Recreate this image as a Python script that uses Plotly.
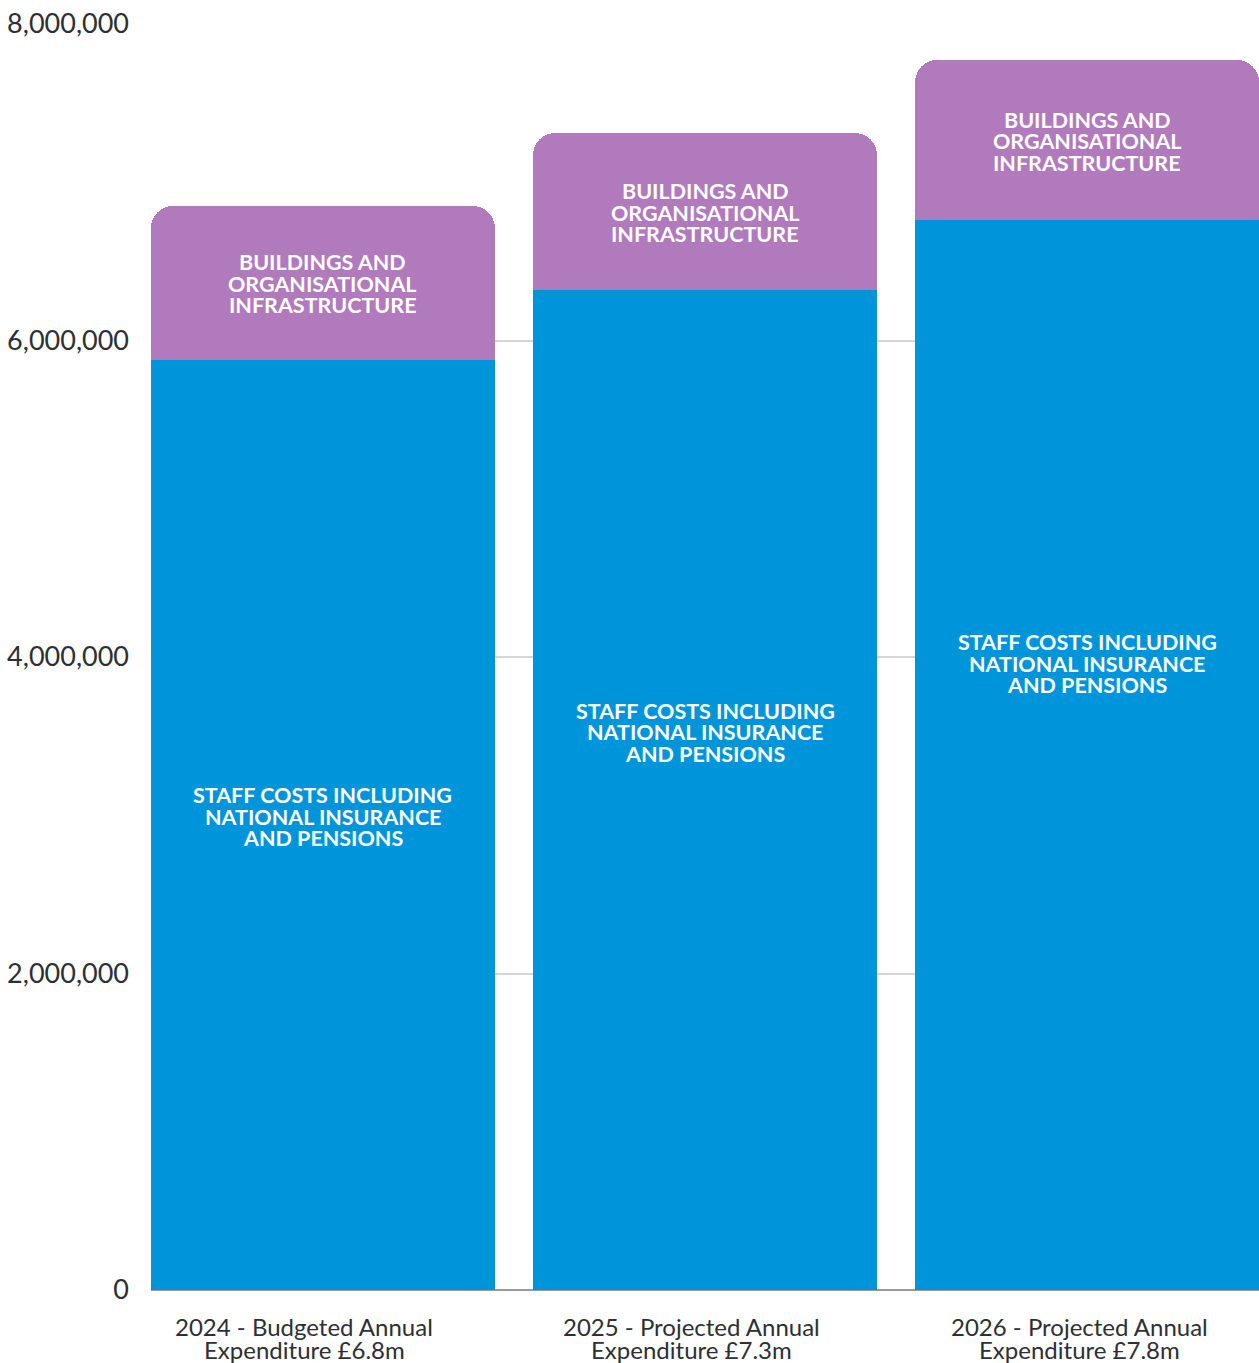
import plotly.graph_objects as go

categories = [
    ["2024 - Budgeted Annual", "Expenditure £6.8m"],
    ["2025 - Projected Annual", "Expenditure £7.3m"],
    ["2026 - Projected Annual", "Expenditure £7.8m"],
]
staff_costs = [5877000, 6319000, 6761000]
buildings = [973000, 992000, 1012000]
staff_label = ["STAFF COSTS INCLUDING", "NATIONAL INSURANCE", "AND PENSIONS"]
buildings_label = ["BUILDINGS AND", "ORGANISATIONAL", "INFRASTRUCTURE"]
y_ticks = [0, 2000000, 4000000, 6000000, 8000000]

# layout: where the staff label sits inside each blue bar (axis units)
STAFF_LABEL_Y = [2989000, 3526000, 3956000]

BLUE = "#0095DA"
PURPLE = "#B07ABD"
TEXT = "#2d2f33"
LINE_GAP = 21.5

xpos = list(range(len(categories)))

fig = go.Figure()
fig.add_trace(go.Bar(
    x=xpos, y=staff_costs, width=0.9,
    marker=dict(color=BLUE, line=dict(width=0)),
    hoverinfo="skip", showlegend=False,
))
fig.add_trace(go.Bar(
    x=xpos, y=buildings, width=0.9,
    marker=dict(color=PURPLE, line=dict(width=0)),
    hoverinfo="skip", showlegend=False,
))
# invisible trace on an overlay axis used for the category labels
fig.add_trace(go.Scatter(
    x=xpos, y=[None] * len(xpos), xaxis="x2", mode="markers",
    showlegend=False, hoverinfo="skip",
))

annotations = []
bar_font = dict(family="Lato", size=21.5, color="white", weight=700)
for i in xpos:
    centers = [
        (STAFF_LABEL_Y[i], staff_label, 0),
        (staff_costs[i] + buildings[i] / 2, buildings_label, -1),
    ]
    for yc, lines, shift in centers:
        n = len(lines)
        for k, line in enumerate(lines):
            annotations.append(dict(
                x=i, y=yc, xref="x", yref="y", text=line, showarrow=False,
                xanchor="center", yanchor="middle",
                yshift=((n - 1) / 2 - k) * LINE_GAP + shift, font=bar_font,
            ))
    for k, line in enumerate(categories[i]):
        annotations.append(dict(
            x=i, y=0, xref="x2", yref="paper", text=line, showarrow=False,
            xanchor="center", yanchor="middle", yshift=-36 - 23 * k,
            font=dict(family="Lato", size=24, color=TEXT),
        ))

fig.update_layout(
    width=1259, height=1363,
    barmode="stack", barcornerradius=22,
    margin=dict(l=151, r=0, t=24, b=73),
    paper_bgcolor="white", plot_bgcolor="white",
    font=dict(family="Lato", color=TEXT),
    annotations=annotations,
    xaxis=dict(
        range=[-0.45, 2.45], showticklabels=False, showgrid=False,
        zeroline=False, showline=False, fixedrange=True,
    ),
    xaxis2=dict(
        overlaying="x", range=[-0.3946, 2.463], showticklabels=False,
        showgrid=False, zeroline=False, showline=False, ticks="",
    ),
    yaxis=dict(
        range=[0, 8000000], tickvals=y_ticks,
        ticktext=[f"{v:,}" for v in y_ticks],
        showgrid=True, gridcolor="#d6d6d6", gridwidth=2,
        zeroline=True, zerolinecolor="#9a9a9a", zerolinewidth=2,
        ticks="", ticklabelstandoff=21,
        tickfont=dict(family="Lato", size=27, color=TEXT),
    ),
)

fig.write_html(
    "out.html",
    config={"displayModeBar": False},
    post_script="document.body.style.margin='0px';",
)
